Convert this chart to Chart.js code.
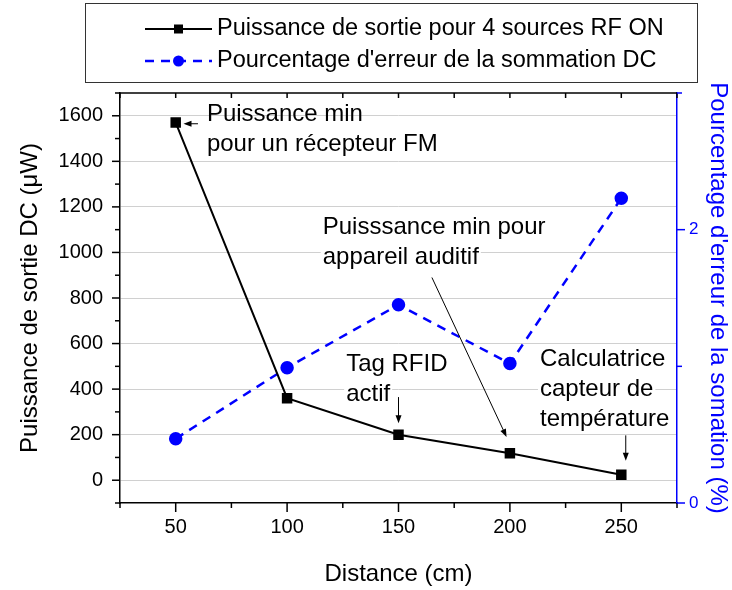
<!DOCTYPE html>
<html>
<head>
<meta charset="utf-8">
<script src="https://cdn.jsdelivr.net/npm/chart.js@4"></script>
<style>
  body { margin: 0; background: #fff; }
  #wrap { width: 732px; height: 590px; position: relative; }
</style>
</head>
<body>
<div id="wrap"><canvas id="chart"></canvas></div>
<script>
const distance = [50, 100, 150, 200, 250];
const puissance = [1570, 360, 200, 118, 24];     // µW
const erreur = [0.47, 0.99, 1.45, 1.02, 2.23];    // %

const xTicks = [50, 100, 150, 200, 250];
const xMinor = [25, 75, 125, 175, 225, 275];
const yTicks = [0, 200, 400, 600, 800, 1000, 1200, 1400, 1600];
const yMinor = [-100, 100, 300, 500, 700, 900, 1100, 1300, 1500, 1700];
const y2Ticks = [0, 2];
const y2Minor = [1, 3];

// annotations, in data units (distance, puissance)
const notes = [
  { lines: ["Puissance min", "pour un récepteur FM"], x: 64, y: 1605, bg: false },
  { lines: ["Puisssance min pour", "appareil auditif"], x: 116, y: 1110, bg: true },
  { lines: ["Tag RFID", "actif"], x: 126.5, y: 510, bg: true },
  { lines: ["Calculatrice", "capteur de", "température"], x: 213.5, y: 532, bg: true }
];
const arrows = [
  { from: [60, 1565], to: [53.5, 1565] },
  { from: [165, 890], to: [198.5, 190] },
  { from: [150, 365], to: [150, 250] },
  { from: [252, 197], to: [252, 85] }
];

const FONT = '"Liberation Sans", Arial, sans-serif';
Chart.defaults.font.family = FONT;
Chart.defaults.color = "#000";

const pts = (ys) => distance.map((d, i) => ({ x: d, y: ys[i] }));

function seg(ctx, x1, y1, x2, y2) {
  ctx.beginPath(); ctx.moveTo(x1, y1); ctx.lineTo(x2, y2); ctx.stroke();
}

const decor = {
  id: "decor",
  beforeDatasetsDraw(chart) {
    const ctx = chart.ctx, sx = chart.scales.x, sy = chart.scales.y;
    ctx.save();
    ctx.font = "24px " + FONT;
    ctx.textBaseline = "middle";
    notes.forEach(n => {
      const x = sx.getPixelForValue(n.x), y = sy.getPixelForValue(n.y);
      n.lines.forEach((t, i) => {
        if (n.bg) {
          ctx.fillStyle = "#fff";
          ctx.fillRect(x - 2, y + i * 30 - 12, ctx.measureText(t).width + 4, 25);
        }
        ctx.fillStyle = "#000";
        ctx.fillText(t, x, y + i * 30);
      });
    });
    ctx.restore();
  },
  afterDraw(chart) {
    const ctx = chart.ctx, a = chart.chartArea;
    const sx = chart.scales.x, sy = chart.scales.y, s2 = chart.scales.y1;
    ctx.save();
    ctx.lineWidth = 1.5;
    ctx.strokeStyle = "#000";
    seg(ctx, a.left, a.top, a.right, a.top);
    xTicks.forEach(v => {
      const p = sx.getPixelForValue(v);
      seg(ctx, p, a.bottom, p, a.bottom + 9);
      seg(ctx, p, a.top, p, a.top + 5);
    });
    xMinor.forEach(v => {
      const p = sx.getPixelForValue(v);
      seg(ctx, p, a.bottom, p, a.bottom + 5);
      seg(ctx, p, a.top, p, a.top + 5);
    });
    yTicks.forEach(v => { const p = sy.getPixelForValue(v); seg(ctx, a.left - 8, p, a.left, p); });
    yMinor.forEach(v => { const p = sy.getPixelForValue(v); seg(ctx, a.left - 5, p, a.left, p); });
    ctx.strokeStyle = "#0000ff";
    y2Ticks.forEach(v => { const p = s2.getPixelForValue(v); seg(ctx, a.right, p, a.right + 8, p); });
    y2Minor.forEach(v => { const p = s2.getPixelForValue(v); seg(ctx, a.right, p, a.right + 5, p); });

    // arrows
    ctx.strokeStyle = "#000";
    ctx.fillStyle = "#000";
    ctx.lineWidth = 1;
    arrows.forEach(ar => {
      const x1 = sx.getPixelForValue(ar.from[0]), y1 = sy.getPixelForValue(ar.from[1]);
      const x2 = sx.getPixelForValue(ar.to[0]), y2 = sy.getPixelForValue(ar.to[1]);
      const ang = Math.atan2(y2 - y1, x2 - x1);
      seg(ctx, x1, y1, x2 - 6 * Math.cos(ang), y2 - 6 * Math.sin(ang));
      ctx.beginPath();
      ctx.moveTo(x2, y2);
      ctx.lineTo(x2 - 8 * Math.cos(ang) + 3 * Math.sin(ang), y2 - 8 * Math.sin(ang) - 3 * Math.cos(ang));
      ctx.lineTo(x2 - 8 * Math.cos(ang) - 3 * Math.sin(ang), y2 - 8 * Math.sin(ang) + 3 * Math.cos(ang));
      ctx.closePath();
      ctx.fill();
    });

    // legend
    ctx.lineWidth = 1;
    ctx.strokeStyle = "#333";
    ctx.strokeRect(85.5, 3.5, 612, 79);
    ctx.font = "23.5px " + FONT;
    ctx.textBaseline = "middle";
    chart.data.datasets.forEach((ds, i) => {
      const y = 29 + i * 32;
      ctx.strokeStyle = ds.borderColor;
      ctx.lineWidth = ds.borderWidth;
      ctx.setLineDash(ds.borderDash || []);
      seg(ctx, 145, y, 212, y);
      ctx.setLineDash([]);
      ctx.fillStyle = ds.backgroundColor;
      if (ds.pointStyle === "rect") {
        ctx.fillRect(174, y - 4.5, 9, 9);
      } else {
        ctx.beginPath(); ctx.arc(178.5, y, 5.5, 0, Math.PI * 2); ctx.fill();
      }
      ctx.fillStyle = "#000";
      ctx.fillText(ds.label, 217, y);
    });
    ctx.restore();
  }
};

new Chart("chart", {
  type: "line",
  data: {
    datasets: [
      {
        label: "Puissance de sortie pour 4 sources RF ON",
        data: pts(puissance),
        yAxisID: "y",
        borderColor: "#000",
        backgroundColor: "#000",
        borderWidth: 2,
        pointStyle: "rect",
        pointRadius: 6,
        pointHoverRadius: 6,
        tension: 0
      },
      {
        label: "Pourcentage d'erreur de la sommation DC",
        data: pts(erreur),
        yAxisID: "y1",
        borderColor: "#0000ff",
        backgroundColor: "#0000ff",
        borderWidth: 2.5,
        borderDash: [9, 7],
        pointStyle: "circle",
        pointRadius: 5.5,
        pointHoverRadius: 5.5,
        tension: 0
      }
    ]
  },
  options: {
    responsive: true,
    maintainAspectRatio: false,
    animation: false,
    layout: { padding: { top: 93, left: 0, right: 0, bottom: 0 } },
    plugins: { legend: { display: false }, tooltip: { enabled: false } },
    scales: {
      x: {
        type: "linear",
        min: 25, max: 275,
        afterBuildTicks: s => { s.ticks = xTicks.map(v => ({ value: v })); },
        afterFit: s => { s.height = 87; },
        grid: { display: false, drawTicks: false },
        border: { display: true, color: "#000", width: 1.5 },
        ticks: { font: { size: 20 }, color: "#000", padding: 12, maxRotation: 0, callback: v => String(v) },
        title: { display: true, text: "Distance (cm)", font: { size: 24 }, color: "#000", padding: { top: 0, bottom: 1 } }
      },
      y: {
        position: "left",
        min: -100, max: 1700,
        afterBuildTicks: s => { s.ticks = yTicks.map(v => ({ value: v })); },
        afterFit: s => { s.width = 120; },
        grid: { color: "#d0d0d0", lineWidth: 1, drawTicks: false },
        border: { display: true, color: "#000", width: 1.5 },
        ticks: { font: { size: 20 }, color: "#000", padding: 17, callback: v => String(v) },
        title: { display: true, text: "Puissance de sortie DC (μW)", font: { size: 24 }, color: "#000", padding: { top: 16, bottom: 0 } }
      },
      y1: {
        position: "right",
        min: 0, max: 3,
        afterBuildTicks: s => { s.ticks = y2Ticks.map(v => ({ value: v })); },
        afterFit: s => { s.width = 55; },
        grid: { display: false, drawOnChartArea: false, drawTicks: false },
        border: { display: true, color: "#0000ff", width: 1.5 },
        ticks: { font: { size: 17 }, color: "#0000ff", padding: 12, callback: v => String(v) },
        title: { display: true, text: "Pourcentage d'erreur de la somation (%)", font: { size: 24 }, color: "#0000ff", padding: { top: 0, bottom: 1 } }
      }
    }
  },
  plugins: [decor]
});
</script>
</body>
</html>
